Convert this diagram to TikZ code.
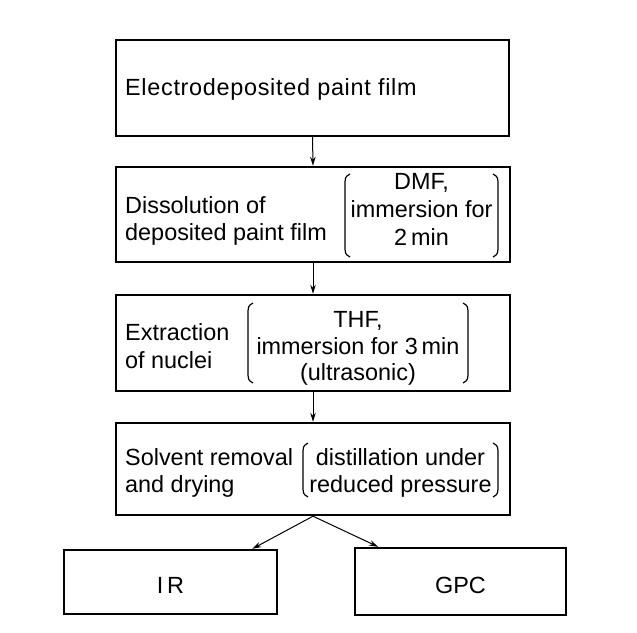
\documentclass[tikz,border=0pt]{standalone}
\usepackage{fontspec}
\setmainfont{Liberation Sans}
\usetikzlibrary{arrows.meta,calc}
\newcommand\myleftparen[3]{\draw[paren] ({#1+5},#2) .. controls (#1,{#2+3}) .. (#1,{#2+13}) -- (#1,{#3-13}) .. controls (#1,{#3-3}) .. ({#1+5},#3);}
\newcommand\myrightparen[3]{\draw[paren] ({#1-5},#2) .. controls (#1,{#2+3}) .. (#1,{#2+13}) -- (#1,{#3-13}) .. controls (#1,{#3-3}) .. ({#1-5},#3);}
\tikzset{
  stepbox/.style={draw, line width=2.4bp, rectangle, inner sep=0pt},
  txt/.style={inner sep=0pt, font=\fontsize{23.5}{27}\selectfont},
  conn/.style={line width=1bp, -{Stealth[length=9bp,width=5.5bp]}},
  paren/.style={line width=1.2bp},
}
\begin{document}
\begin{tikzpicture}[x=1bp,y=-1bp]
\fill[white] (0,0) rectangle (637,633);
\useasboundingbox (0,0) rectangle (637,633);
% boxes
\node[stepbox, minimum width=393bp, minimum height=96bp] (b1) at (312.5,88) {};
\node[stepbox, minimum width=394bp, minimum height=95bp] (b2) at (313,214.5) {};
\node[stepbox, minimum width=394bp, minimum height=96bp] (b3) at (313,343) {};
\node[stepbox, minimum width=394bp, minimum height=92bp] (b4) at (313,469) {};
\node[stepbox, minimum width=213bp, minimum height=64bp] (ir) at (170.5,582) {};
\node[stepbox, minimum width=211bp, minimum height=67bp] (gpc) at (460.5,581.5) {};
% texts box 1
\node[txt, anchor=base west] (t1) at (125,96) {\addfontfeatures{LetterSpace=3}Electrodeposited paint film};
% box 2
\node[txt, anchor=base west] (t2a) at (125,213) {Dissolution of};
\node[txt, anchor=base west] (t2b) at (125,240) {deposited paint film};
\node[txt, anchor=base] (t2c) at (421.5,190) {DMF,};
\node[txt, anchor=base] (t2d) at (421.5,217.5) {immersion for};
\node[txt, anchor=base] (t2e) at (421.5,245) {2\,min};
\myleftparen{345}{174}{257}
\myrightparen{498}{174}{257}
% box 3
\node[txt, anchor=base west] (t3a) at (125,340) {Extraction};
\node[txt, anchor=base west] (t3b) at (125,368) {of nuclei};
\node[txt, anchor=base] (t3c) at (358,327) {THF,};
\node[txt, anchor=base] (t3d) at (358,354) {immersion for 3\,min};
\node[txt, anchor=base] (t3e) at (358,380) {(ultrasonic)};
\myleftparen{248}{303}{383}
\myrightparen{468}{303}{383}
% box 4
\node[txt, anchor=base west] (t4a) at (125,465) {Solvent removal};
\node[txt, anchor=base west] (t4b) at (125,492) {and drying};
\node[txt, anchor=base] (t4c) at (400.5,465) {distillation under};
\node[txt, anchor=base] (t4d) at (400.5,492) {reduced pressure};
\myleftparen{303}{443}{497}
\myrightparen{498}{443}{497}
% bottom texts
\node[txt, anchor=base] (tir) at (170.5,593) {I\,R};
\node[txt, anchor=base] (tgpc) at (460.5,593) {GPC};
% connectors
\draw[conn] (b1.south) -- (b2.north);
\draw[conn] (b2.south) -- (b3.north);
\draw[conn] (b3.south) -- (b4.north);
\draw[conn] (b4.south) -- ($(ir.north west)!0.88!(ir.north east)$);
\draw[conn] (b4.south) -- ($(gpc.north west)!0.114!(gpc.north east)$);
\end{tikzpicture}
\end{document}
